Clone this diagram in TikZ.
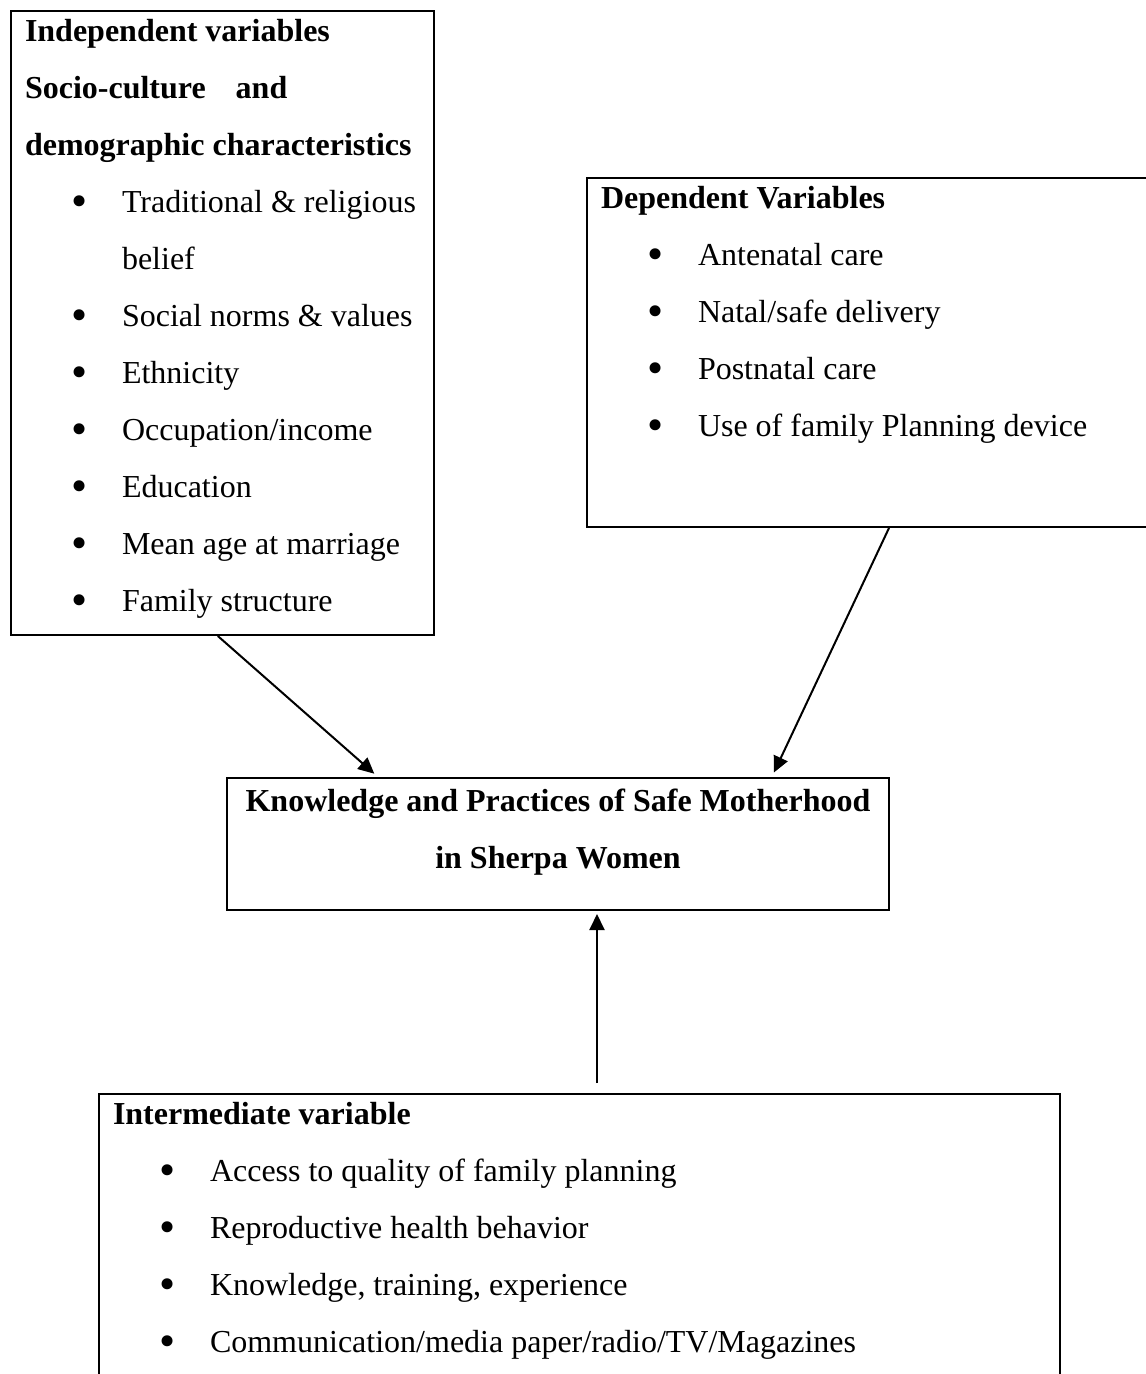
\documentclass[tikz,border=0pt]{standalone}
\usepackage{fontspec}
\setmainfont{Liberation Serif}
\usepackage{tikz}
\usetikzlibrary{arrows.meta,positioning,calc}

\newcommand{\bul}{\raisebox{-4pt}{\fontsize{46pt}{57pt}\selectfont\textbullet}}
\newcommand{\itm}[1]{\hspace*{46pt}\makebox[51pt][l]{\bul}#1}
\newcommand{\boxtext}[3]{\parbox[c][#2][t]{#1}{\rule{0pt}{30pt}#3}}

\begin{document}
\begin{tikzpicture}[x=1pt,y=-1pt,->,>={Triangle[length=16pt,width=15pt]},shorten >=5pt,
line width=2pt,font=\fontsize{32pt}{57pt}\selectfont]

\tikzstyle{varbox}=[rectangle, draw, line width=2pt, anchor=north west,
inner xsep=14pt, inner ysep=0pt, text=black]

\path[use as bounding box, clip] (0,0) rectangle (1146,1374);

%independent variables
\node[varbox]
(indep) at (10,10)
{\boxtext{395pt}{624pt}{\textbf{Independent variables}\\
\textbf{Socio-culture\hspace{30pt}and}\\
\textbf{demographic characteristics}\\
\itm{Traditional \& religious}\\
\hspace*{97pt}belief\\
\itm{Social norms \& values}\\
\itm{Ethnicity}\\
\itm{Occupation/income}\\
\itm{Education}\\
\itm{Mean age at marriage}\\
\itm{Family structure}}};

\node[varbox]
(dep) at (586,177)
{\boxtext{572pt}{349pt}{\textbf{Dependent Variables}\\
\itm{Antenatal care}\\
\itm{Natal/safe delivery}\\
\itm{Postnatal care}\\
\itm{Use of family Planning device}}};

\node[varbox]
(cen) at (226,777)
{\parbox[c][132pt][t]{634pt}{\centering\bfseries\rule{0pt}{33pt}Knowledge and Practices of Safe Motherhood\\
in Sherpa Women}};

\node[varbox]
(mid) at (98,1093)
{\boxtext{933pt}{320pt}{\textbf{Intermediate variable}\\
\itm{Access to quality of family planning}\\
\itm{Reproductive health behavior}\\
\itm{Knowledge, training, experience}\\
\itm{Communication/media paper/radio/TV/Magazines}}};

\coordinate (a1) at ($(indep.south west)!0.489!(indep.south east)$);
\coordinate (b1) at ($(cen.north west)!0.229!(cen.north east)$);
\coordinate (a2) at ([xshift=303pt]dep.south west);
\coordinate (b2) at ($(cen.north west)!0.822!(cen.north east)$);
\coordinate (a3) at ([xshift=499pt]mid.north west);
\coordinate (b3) at ([xshift=371pt]cen.south west);

\path[->] (a1) edge (b1);
\path[->] (a2) edge (b2);
\path[->,shorten <=10pt,shorten >=3pt] (a3) edge (b3);

\end{tikzpicture}
\end{document}
